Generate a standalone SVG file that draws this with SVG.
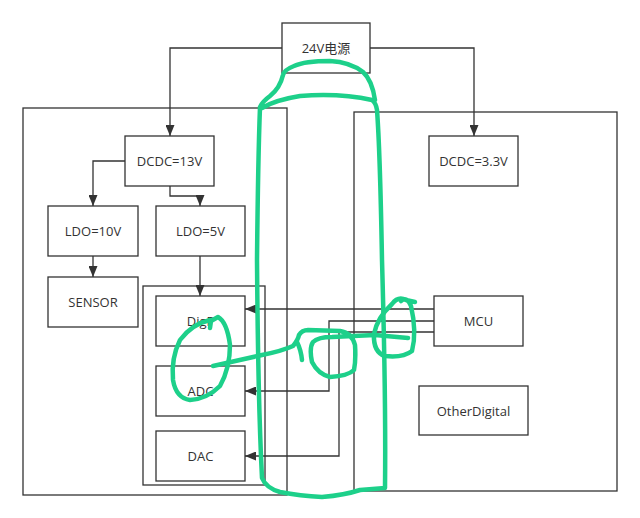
<svg xmlns="http://www.w3.org/2000/svg" width="640" height="518" viewBox="0 0 640 518">
<defs>
<marker id="arr" markerUnits="userSpaceOnUse" markerWidth="11" markerHeight="9" refX="11" refY="4.5" orient="auto">
<path d="M0,0 L11,4.5 L0,9 z" fill="#333"/>
</marker>
<style>
.box{fill:#fff;stroke:#333;stroke-width:1.3}
.frame{fill:none;stroke:#333;stroke-width:1.3}
.lbl{font-family:"Open Sans","Noto Sans CJK SC",sans-serif;font-size:13px;fill:#333;text-anchor:middle;dominant-baseline:central}
.con{fill:none;stroke:#333;stroke-width:1.3}
.arr{marker-end:url(#arr)}
.ink{fill:none;stroke:#1dd08a;stroke-width:4.5;stroke-linecap:round;stroke-linejoin:round}
</style>
</defs>
<rect width="640" height="518" fill="#fff"/>
<g id="frames">
<rect id="leftBoard" class="frame" x="23" y="108" width="264" height="387"/>
<rect id="rightBoard" class="frame" x="354" y="112" width="263" height="379"/>
<rect id="analogGroup" class="frame" x="143" y="286" width="122" height="199"/>
</g>
<g id="connectors">
<path class="con arr" d="M282,48 H170 V136"/>
<path class="con arr" d="M370,48 H474 V136"/>
<path class="con arr" d="M125,161 H93 V206"/>
<path class="con arr" d="M170,186 V196 H200 V206"/>
<path class="con arr" d="M93,256 V277"/>
<path class="con arr" d="M200,256 V296"/>
<path class="con arr" d="M434,309 H245"/>
<path class="con arr" d="M434,321 H329 V391 H245"/>
<path class="con arr" d="M434,332 H339 V456 H245"/>
</g>
<g id="n24v"><rect class="box" x="282" y="23" width="88" height="50"/><text class="lbl" x="326" y="48">24V电源</text></g>
<g id="dcdc13"><rect class="box" x="125" y="136" width="89" height="50"/><text class="lbl" x="169.5" y="161">DCDC=13V</text></g>
<g id="ldo10"><rect class="box" x="48" y="206" width="90" height="50"/><text class="lbl" x="93" y="231">LDO=10V</text></g>
<g id="ldo5"><rect class="box" x="156" y="206" width="89" height="50"/><text class="lbl" x="200.5" y="231">LDO=5V</text></g>
<g id="sensor"><rect class="box" x="48" y="277" width="90" height="50"/><text class="lbl" x="93" y="302">SENSOR</text></g>
<g id="digp"><rect class="box" x="156" y="296" width="89" height="50"/><text class="lbl" x="200.5" y="321">DigP</text></g>
<g id="adc"><rect class="box" x="156" y="366" width="89" height="50"/><text class="lbl" x="200.5" y="391">ADC</text></g>
<g id="dac"><rect class="box" x="156" y="431" width="89" height="50"/><text class="lbl" x="200.5" y="456">DAC</text></g>
<g id="dcdc33"><rect class="box" x="429" y="136" width="89" height="50"/><text class="lbl" x="473.5" y="161">DCDC=3.3V</text></g>
<g id="mcu"><rect class="box" x="434" y="296" width="89" height="50"/><text class="lbl" x="478.5" y="321">MCU</text></g>
<g id="otherDigital"><rect class="box" x="419" y="386" width="109" height="49"/><text class="lbl" x="473.5" y="410.5">OtherDigital</text></g>
<g id="annotations">
<path class="ink" d="M375,100 Q372,80 363,72 Q350,62 330,61 Q305,61 294,66 Q284,70 283,75 Q280,88 270,96 Q262,102 260,107 Q258,160 257,260 Q258,400 262,478 Q266,488 280,492 Q300,496 322,497 Q345,495 360,490 L385,488 Q386,400 382,260 Q380,150 377,110 Q376,103 372,100 Q340,93 300,96 Q275,100 262,108"/>
<path class="ink" d="M210,328 L211,321 L218,317 Q227,322 230,345 Q230,368 220,386 Q207,399 190,400 Q176,398 173,380 Q171,358 180,340 Q192,324 210,320"/>
<path class="ink" d="M213,366 Q240,360 262,355 Q282,351 293,346 Q298,340 299,335 Q302,330 308,330 L340,331 Q352,333 355,345 Q356,360 354,370 Q348,376 330,377 Q318,374 312,362 Q309,348 313,342 Q318,337 332,337 L375,335 L408,338"/>
<path class="ink" d="M297,342 Q301,350 302,360"/>
<path class="ink" d="M415,302 L406,300 Q398,296 392,304 Q377,318 374,334 Q373,352 385,356 Q403,358 412,351 Q417,332 411,306 Q407,296 401,301"/>
</g>
</svg>
